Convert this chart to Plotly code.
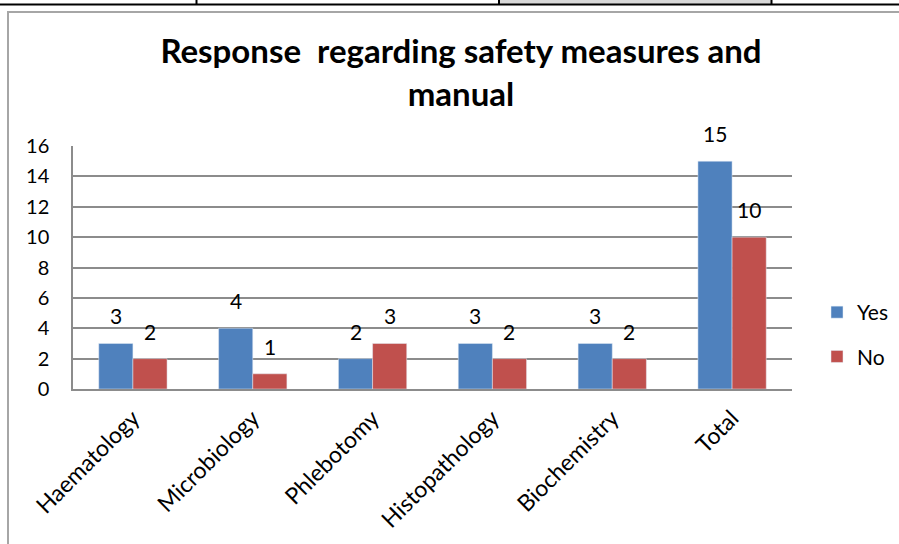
import plotly.graph_objects as go

# Survey responses by laboratory section
categories = ["Haematology", "Microbiology", "Phlebotomy", "Histopathology", "Biochemistry", "Total"]
yes_counts = [3, 4, 2, 3, 3, 15]
no_counts = [2, 1, 3, 2, 2, 10]
y_ticks = [0, 2, 4, 6, 8, 10, 12, 14, 16]

W, H = 899, 544
L, R, T, B = 73, 792, 146, 389  # plot area in pixels

FONT = "Lato"
BLUE = "#4F81BD"
RED = "#C0504D"
GRID = "#8c8c8c"


def px(x):
    return (x - L) / (R - L)


def py(y):
    return (B - y) / (B - T)


fig = go.Figure()
fig.add_trace(go.Bar(name="Yes", x=categories, y=yes_counts, marker_color=BLUE,
                     legendgroup="yes"))
fig.add_trace(go.Bar(name="No", x=categories, y=no_counts, marker_color=RED,
                     legendgroup="no"))

# value labels above each bar
annotations = []
for vals, dx in ((yes_counts, -17), (no_counts, 17)):
    for c, v in zip(categories, vals):
        annotations.append(dict(x=c, y=v, text=str(v), showarrow=False,
                                xref="x", yref="y", xshift=dx, yshift=13,
                                yanchor="bottom",
                                font=dict(family=FONT, size=21, color="#000")))

# surrounding document table rule and chart frame
shapes = [
    dict(type="rect", xref="paper", yref="paper", x0=px(500), x1=px(771), y0=py(0), y1=py(4),
         fillcolor="#d9d9d9", line_width=0, layer="below"),
    dict(type="line", xref="paper", yref="paper", x0=px(0), x1=px(899), y0=py(4.5), y1=py(4.5),
         line=dict(color="#000", width=2)),
    dict(type="line", xref="paper", yref="paper", x0=px(196.5), x1=px(196.5), y0=py(0), y1=py(4.5),
         line=dict(color="#000", width=2)),
    dict(type="line", xref="paper", yref="paper", x0=px(499), x1=px(499), y0=py(0), y1=py(4.5),
         line=dict(color="#000", width=2)),
    dict(type="line", xref="paper", yref="paper", x0=px(771.5), x1=px(771.5), y0=py(0), y1=py(4.5),
         line=dict(color="#000", width=2)),
    dict(type="rect", xref="paper", yref="paper", x0=px(8), x1=px(920), y0=py(12), y1=py(560),
         line=dict(color="#a6a6a6", width=2), fillcolor="rgba(0,0,0,0)"),
]

fig.update_layout(
    width=W, height=H,
    margin=dict(l=L, r=W - R, t=T, b=H - B, pad=0, autoexpand=False),
    paper_bgcolor="white", plot_bgcolor="white",
    barmode="group", bargap=0.43, bargroupgap=0,
    title=dict(text="<b>Response  regarding safety measures and<br>manual</b>",
               x=px(461), xanchor="center", xref="paper",
               y=1 - 63 / H, yanchor="top", yref="container",
               font=dict(family=FONT, size=33, color="#000")),
    legend=dict(x=px(817), y=py(292), xanchor="left", yanchor="top",
                font=dict(family=FONT, size=21, color="#000"),
                tracegroupgap=14, bgcolor="rgba(0,0,0,0)"),
    annotations=annotations,
    shapes=shapes,
    xaxis=dict(tickangle=-45, tickfont=dict(family=FONT, size=23, color="#000"),
               showline=True, linecolor=GRID, linewidth=1.5, ticks="",
               showgrid=False, automargin=False, ticklabelstandoff=5),
    yaxis=dict(range=[0, 16], tickvals=y_ticks, ticks="",
               tickfont=dict(family=FONT, size=20, color="#000"),
               showline=True, linecolor=GRID, linewidth=1.5,
               showgrid=True, gridcolor=GRID, gridwidth=1.5,
               zeroline=False, ticklabelstandoff=18, automargin=False),
)

fig.write_html("out.html")
